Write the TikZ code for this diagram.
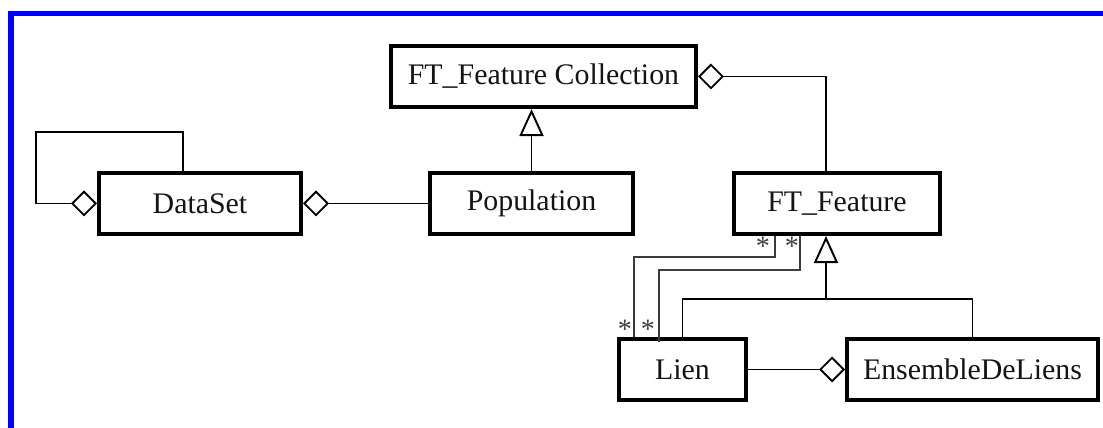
\documentclass[tikz,border=0pt]{standalone}
\usepackage{fontspec}
\setmainfont{Liberation Serif}
\usepackage{tikz}
\usetikzlibrary{arrows.meta, positioning, calc}
\definecolor{frameblue}{RGB}{0, 0, 255}
\definecolor{inkgray}{RGB}{20, 20, 20}
\definecolor{thingray}{RGB}{60, 60, 60}

\begin{document}
\begin{tikzpicture}[
  x=0.02cm, y=-0.02cm,
  every node/.style={font=\fontsize{17}{19}\selectfont, text=inkgray},
  cls/.style={draw=black, line width=2.3pt, minimum height=1.22cm,
              inner sep=0pt, fill=white},
  assoc/.style={line width=1.1pt, draw=black},
  aggr/.style={assoc, {Diamond[open, length=0.52cm, width=0.52cm]}-},
  aggrend/.style={assoc, -{Diamond[open, length=0.52cm, width=0.52cm]}},
  inherit/.style={assoc, -{Triangle[open, length=0.54cm, width=0.48cm]}},
  thinlink/.style={line width=0.65pt, draw=thingray},
  mult/.style={font=\fontsize{16}{16}\selectfont, text=thingray, inner sep=0pt}
]
\useasboundingbox (0,0) rectangle (1103,428);

% ── Frame ────────────────────────────────────────────────────────────────────
\fill[frameblue] (8,11) rectangle (1103,16);
\fill[frameblue] (8,11) rectangle (14,428);

% ── Classes ──────────────────────────────────────────────────────────────────
\node[cls, minimum width=6.1cm]  (ftcoll)  at (543.5,76.5) {FT\_Feature Collection};
\node[cls, minimum width=4.04cm] (dataset) at (200,203.5)  {DataSet};
\node[cls, minimum width=4.06cm] (popul)   at (531.5,203.5) {Population};
\node[cls, minimum width=4.12cm] (ftfeat)  at (837,203.5)  {FT\_Feature};
\node[cls, minimum width=2.54cm] (lien)    at (682.5,369.5) {Lien};
\node[cls, minimum width=5.02cm] (ensliens) at (972.5,369.5) {EnsembleDeLiens};

% ── Helper points ───────────────────────────────────────────────────────────
\coordinate (loopup)  at (183,132);
\coordinate (loopleft) at (36,203.5);
\coordinate (collcorner) at (826,76.5);
\coordinate (genjoin) at (826,299);
\coordinate (linkA) at (775,257);
\coordinate (linkB) at (800,270);

% ── Connectors ───────────────────────────────────────────────────────────────
% DataSet self aggregation
\draw[aggrend]
  (dataset.north -| loopup) -- (loopup) -| (loopleft) -- (dataset.west);

% DataSet <>-- Population
\draw[aggr] (dataset.east) -- (popul.west);

% Population --|> FT_Feature Collection
\draw[inherit] (popul.north) -- (ftcoll.south -| popul.north);

% FT_Feature Collection <>-- FT_Feature
\draw[aggr] (ftcoll.east) -- (collcorner) -- (collcorner |- ftfeat.north);

% Lien, EnsembleDeLiens --|> FT_Feature
\draw[assoc] (lien.north) |- (genjoin) -| (ensliens.north);
\draw[inherit] (genjoin) -- (genjoin |- ftfeat.south);

% Lien --<> EnsembleDeLiens
\draw[aggrend] (lien.east) -- (ensliens.west);

% Lien -- FT_Feature (two links)
\draw[thinlink] (linkA |- ftfeat.south) -- (linkA) -- (634,257) -- (lien.north -| 634,0);
\draw[thinlink] (linkB |- ftfeat.south) -- (linkB) -- (659,270) -- ($(lien.north -| 659,0)+(0,5)$);

% ── Multiplicities ─────────────────────────────────────────────────────────
\node[mult] (mA) at (763,246) {*};
\node[mult] (mB) at (792,246) {*};
\node[mult] (mC) at (625,329) {*};
\node[mult] (mD) at (648,329) {*};

\end{tikzpicture}
\end{document}
